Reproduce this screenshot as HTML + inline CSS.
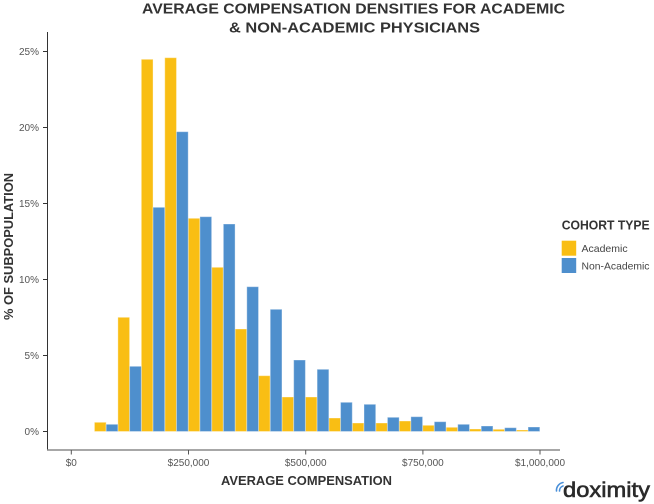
<!DOCTYPE html>
<html>
<head>
<meta charset="utf-8">
<style>
  html,body{margin:0;padding:0;background:#fff;}
  svg{display:block;}
  text{font-family:"Liberation Sans", Arial, sans-serif;}
</style>
</head>
<body>
<svg width="654" height="504" viewBox="0 0 654 504" xmlns="http://www.w3.org/2000/svg">
  <rect width="654" height="504" fill="#fff"/>
  <!-- Title -->
  <text x="353.5" y="13.5" text-anchor="middle" font-size="14.5" font-weight="bold" fill="#333" textLength="423" lengthAdjust="spacingAndGlyphs">AVERAGE COMPENSATION DENSITIES FOR ACADEMIC</text>
  <text x="354.5" y="32.5" text-anchor="middle" font-size="14.5" font-weight="bold" fill="#333" textLength="251" lengthAdjust="spacingAndGlyphs">&amp; NON-ACADEMIC PHYSICIANS</text>

  <!-- Bars: Academic -->
  <g fill="#F9BE14" stroke="#fff" stroke-opacity="0.35" stroke-width="1">
    <rect x="94.44" y="422.3" width="11.72" height="9.2"/>
    <rect x="117.88" y="317.3" width="11.72" height="114.2"/>
    <rect x="141.32" y="59.3" width="11.72" height="372.2"/>
    <rect x="164.76" y="57.7" width="11.72" height="373.8"/>
    <rect x="188.2" y="218.3" width="11.72" height="213.2"/>
    <rect x="211.64" y="267.3" width="11.72" height="164.2"/>
    <rect x="235.08" y="329" width="11.72" height="102.5"/>
    <rect x="258.52" y="375.7" width="11.72" height="55.8"/>
    <rect x="281.96" y="397" width="11.72" height="34.5"/>
    <rect x="305.4" y="397" width="11.72" height="34.5"/>
    <rect x="328.84" y="418" width="11.72" height="13.5"/>
    <rect x="352.28" y="423" width="11.72" height="8.5"/>
    <rect x="375.72" y="423" width="11.72" height="8.5"/>
    <rect x="399.16" y="421" width="11.72" height="10.5"/>
    <rect x="422.6" y="425.3" width="11.72" height="6.2"/>
    <rect x="446.04" y="427.3" width="11.72" height="4.2"/>
    <rect x="469.48" y="429" width="11.72" height="2.5"/>
    <rect x="492.92" y="429.3" width="11.72" height="2.2"/>
    <rect x="516.36" y="430" width="11.72" height="1.5"/>
  </g>
  <!-- Bars: Non-Academic -->
  <g fill="#4E8FCD" stroke="#fff" stroke-opacity="0.35" stroke-width="1">
    <rect x="106.16" y="424.3" width="11.72" height="7.2"/>
    <rect x="129.6" y="366.3" width="11.72" height="65.2"/>
    <rect x="153.04" y="207.3" width="11.72" height="224.2"/>
    <rect x="176.48" y="131.7" width="11.72" height="299.8"/>
    <rect x="199.92" y="216.7" width="11.72" height="214.8"/>
    <rect x="223.36" y="224" width="11.72" height="207.5"/>
    <rect x="246.8" y="286.7" width="11.72" height="144.8"/>
    <rect x="270.24" y="309.3" width="11.72" height="122.2"/>
    <rect x="293.68" y="360" width="11.72" height="71.5"/>
    <rect x="317.12" y="369.3" width="11.72" height="62.2"/>
    <rect x="340.56" y="402.3" width="11.72" height="29.2"/>
    <rect x="364" y="404.3" width="11.72" height="27.2"/>
    <rect x="387.44" y="417.3" width="11.72" height="14.2"/>
    <rect x="410.88" y="416.7" width="11.72" height="14.8"/>
    <rect x="434.32" y="421.7" width="11.72" height="9.8"/>
    <rect x="457.76" y="424.3" width="11.72" height="7.2"/>
    <rect x="481.2" y="426" width="11.72" height="5.5"/>
    <rect x="504.64" y="427.7" width="11.72" height="3.8"/>
    <rect x="528.08" y="427" width="11.72" height="4.5"/>
  </g>

  <!-- Axes -->
  <line x1="47.5" y1="32" x2="47.5" y2="450" stroke="#333" stroke-width="1"/>
  <line x1="47" y1="450" x2="560" y2="450" stroke="#8a8a8a" stroke-width="1.6"/>

  <!-- Y ticks -->
  <g stroke="#333" stroke-width="1">
    <line x1="43" y1="431.5" x2="47.5" y2="431.5"/>
    <line x1="43" y1="355.5" x2="47.5" y2="355.5"/>
    <line x1="43" y1="279.5" x2="47.5" y2="279.5"/>
    <line x1="43" y1="203.5" x2="47.5" y2="203.5"/>
    <line x1="43" y1="127.5" x2="47.5" y2="127.5"/>
    <line x1="43" y1="51.5" x2="47.5" y2="51.5"/>
  </g>
  <g font-size="10" fill="#555" text-anchor="end">
    <text x="39" y="435">0%</text>
    <text x="39" y="359">5%</text>
    <text x="39" y="283">10%</text>
    <text x="39" y="207">15%</text>
    <text x="39" y="131">20%</text>
    <text x="39" y="55">25%</text>
  </g>

  <!-- X ticks -->
  <g stroke="#555" stroke-width="1">
    <line x1="71.3" y1="450" x2="71.3" y2="454.5"/>
    <line x1="188.5" y1="450" x2="188.5" y2="454.5"/>
    <line x1="305.7" y1="450" x2="305.7" y2="454.5"/>
    <line x1="422.9" y1="450" x2="422.9" y2="454.5"/>
    <line x1="540" y1="450" x2="540" y2="454.5"/>
  </g>
  <g font-size="10" fill="#555" text-anchor="middle">
    <text x="71.3" y="466">$0</text>
    <text x="188.5" y="466">$250,000</text>
    <text x="305.7" y="466">$500,000</text>
    <text x="422.9" y="466">$750,000</text>
    <text x="540" y="466">$1,000,000</text>
  </g>

  <!-- Axis titles -->
  <text x="306.5" y="485" text-anchor="middle" font-size="13" font-weight="bold" fill="#333" textLength="171" lengthAdjust="spacingAndGlyphs">AVERAGE COMPENSATION</text>
  <text transform="translate(12.8,246.5) rotate(-90)" text-anchor="middle" font-size="13" font-weight="bold" fill="#333" textLength="147" lengthAdjust="spacingAndGlyphs">% OF SUBPOPULATION</text>

  <!-- Legend -->
  <text x="561.7" y="229.5" font-size="13" font-weight="bold" fill="#333" textLength="88" lengthAdjust="spacingAndGlyphs">COHORT TYPE</text>
  <rect x="561.7" y="240.7" width="14.5" height="15" fill="#F9BE14"/>
  <rect x="561.7" y="258" width="14.5" height="15" fill="#4E8FCD"/>
  <text x="581.5" y="252" font-size="10.5" fill="#444">Academic</text>
  <text x="581.5" y="269.5" font-size="10.5" fill="#444" textLength="68" lengthAdjust="spacingAndGlyphs">Non-Academic</text>

  <!-- doximity logo -->
  <g fill="none" stroke="#4A90D9" stroke-width="1.6" stroke-linecap="round">
    <path d="M556.5 491 A 8 8 0 0 1 563 482.5"/>
    <path d="M559.5 491 A 5 5 0 0 1 563 486"/>
  </g>
  <text x="563" y="497" font-size="21" fill="#2a2a2a" stroke="#2a2a2a" stroke-width="0.6" textLength="87" lengthAdjust="spacingAndGlyphs">doximity</text>
</svg>
</body>
</html>
